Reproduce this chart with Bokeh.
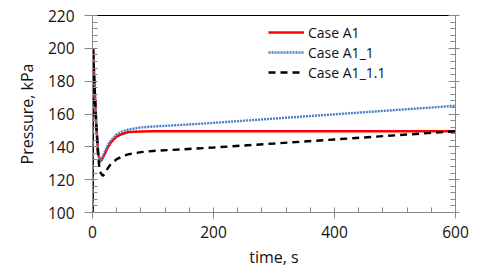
from bokeh.plotting import figure
from bokeh.models import LinearAxis, Legend, LegendItem, FixedTicker, Range1d
from bokeh.embed import file_html
from bokeh.resources import INLINE

# data
t = [0, 1, 3, 6, 9, 12, 15, 20, 25, 30, 40, 50, 60, 80, 100, 150, 200, 300, 400, 500, 600]
case_a1 = [100, 200, 180, 155, 138, 131, 131.8, 135.5, 139.5, 142.5, 146.3, 148, 149, 149.4, 149.5,
           149.5, 149.5, 149.5, 149.5, 149.5, 149.5]
case_a1_1 = [100, 200, 180, 155, 138, 131, 132.3, 136.8, 140.8, 143.8, 147.6, 149.5, 150.6, 151.8, 152.4,
             153.4, 154.6, 157.2, 159.8, 162.4, 165]
t_b = [0, 1, 3, 6, 9, 12, 17, 20, 25, 30, 40, 50, 60, 80, 100, 150, 200, 300, 400, 500, 600]
case_a1_11 = [100, 200, 180, 155, 136, 125, 122.3, 123.5, 126.8, 129.3, 132.5, 134.3, 135.5, 136.8, 137.5,
              138.5, 139.6, 142, 144.5, 147, 149.5]

x_ticks = [0, 200, 400, 600]
y_ticks = [100, 120, 140, 160, 180, 200, 220]

FONT = "Open Sans"
TXT = "#111111"

p = figure(width=472, height=270, output_backend="svg", toolbar_location=None,
           x_range=Range1d(0, 600), y_range=Range1d(100, 220),
           min_border_left=92, min_border_right=17, min_border_top=15, min_border_bottom=58)
p.grid.visible = False
p.outline_line_color = "black"
p.outline_line_width = 1
p.background_fill_color = "white"
p.border_fill_color = "white"

r1 = p.line(t, case_a1, line_color="#FF0000", line_width=2.5)
r2 = p.line(t, case_a1_1, line_color="#4A7EC8", line_width=2.4, line_dash="2 1")
r3 = p.line(t_b, case_a1_11, line_color="black", line_width=2.4, line_dash="7 5")

xa = p.xaxis[0]
xa.ticker = FixedTicker(ticks=x_ticks, minor_ticks=list(range(0, 601, 40)))
xa.axis_label = "time, s"
ya = p.yaxis[0]
ya.ticker = FixedTicker(ticks=y_ticks, minor_ticks=list(range(100, 221, 4)))
ya.axis_label = "Pressure, kPa"

for ax in (xa, ya):
    ax.axis_line_color = "#888888"
    ax.major_tick_line_color = "#888888"
    ax.minor_tick_line_color = "#888888"
    ax.major_label_text_font = FONT
    ax.major_label_text_font_size = "15.5px"
    ax.major_label_text_color = TXT
    ax.axis_label_text_font = FONT
    ax.axis_label_text_font_size = "16px"
    ax.axis_label_text_font_style = "normal"
    ax.axis_label_text_color = TXT
    ax.major_tick_in = 4
    ax.minor_tick_in = 5
    ax.minor_tick_out = 0

ya.major_tick_out = 8
ya.major_label_standoff = 10
ya.axis_label_standoff = 7
xa.major_tick_out = 6
xa.major_label_standoff = 7
xa.axis_label_standoff = 5

ra = LinearAxis(ticker=FixedTicker(ticks=y_ticks, minor_ticks=list(range(100, 221, 4))))
ra.major_label_text_font_size = "1px"
ra.major_label_text_color = None
ra.major_label_standoff = 0
ra.axis_line_color = "#888888"
ra.major_tick_line_color = "#888888"
ra.minor_tick_line_color = "#888888"
ra.major_tick_in = 7
ra.major_tick_out = 4
ra.minor_tick_in = 5
ra.minor_tick_out = 0
p.add_layout(ra, "right")

legend = Legend(items=[LegendItem(label="Case A1", renderers=[r1]),
                       LegendItem(label="Case A1_1", renderers=[r2]),
                       LegendItem(label="Case A1_1.1", renderers=[r3])],
                location=(176, 130))
legend.border_line_color = None
legend.background_fill_alpha = 0
legend.padding = 0
legend.margin = 0
legend.spacing = 0
legend.glyph_width = 36
legend.glyph_height = 20
legend.label_height = 20
legend.label_standoff = 4
legend.label_text_font = FONT
legend.label_text_font_size = "14px"
legend.label_text_color = TXT
p.add_layout(legend, "center")

open("out.html", "w").write(file_html(p, INLINE))
